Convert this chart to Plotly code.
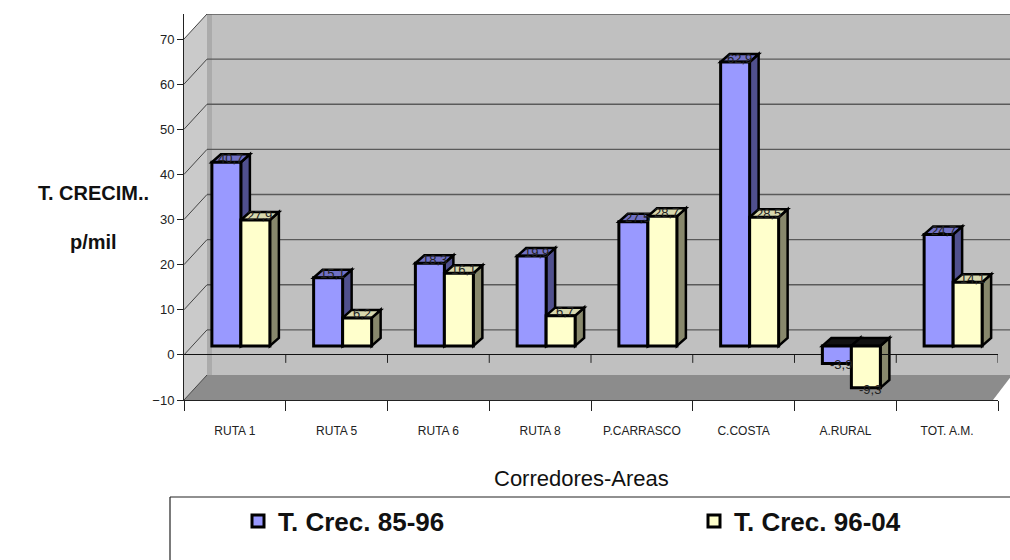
import plotly.graph_objects as go

categories = ["RUTA 1", "RUTA 5", "RUTA 6", "RUTA 8", "P.CARRASCO", "C.COSTA", "A.RURAL", "TOT. A.M."]
crec_85_96 = [40.7, 15.1, 18.3, 19.9, 27.5, 62.9, -3.9, 24.7]
crec_96_04 = [27.9, 6.2, 16.1, 6.7, 28.7, 28.5, -9.3, 14.1]
series_names = ["T. Crec. 85-96", "T. Crec. 96-04"]
y_ticks = [-10, 0, 10, 20, 30, 40, 50, 60, 70]

FONT = "Liberation Sans, Arial, sans-serif"

# plot geometry (pixels)
W, H = 1010, 560
L, T, PW, PH = 184, 14, 826, 386
XW = 814  # width of category axis
PXU = 4.5125  # pixels per y unit
WALL_X = 207
BACK_UNITS = 25 / PXU     # back wall shift
FRONT_UNITS = 9 / PXU     # bar front-face shift
DX = 9 / (XW / len(categories))
DY = 8 / PXU

def px(p):
    return (p - L) / PW

def py(p):
    return (T + PH - p) / PH

span = PH / PXU
y2_range = [-10, -10 + span]
y_range = [-10 - FRONT_UNITS, -10 - FRONT_UNITS + span]

colors = ["#9999ff", "#ffffcc"]
tops = ["#7070c4", "#d8d8ae"]
sides = ["#50508e", "#88886c"]
offsets = [-0.226, 0.059]
bw = 0.285

fig = go.Figure()
shapes = []
annotations = []

# walls and floor
shapes.append(dict(type="path", xref="paper", yref="paper", layer="below",
                   path=f"M{px(L)},{py(39)} L{px(WALL_X)},{py(14)} L{px(WALL_X)},{py(375)} L{px(L)},{py(400)} Z",
                   fillcolor="#cacaca", line=dict(width=0)))
shapes.append(dict(type="rect", xref="paper", yref="paper", layer="below",
                   x0=px(WALL_X), x1=px(1010), y0=py(375), y1=py(14),
                   fillcolor="#c0c0c0", line=dict(width=0)))
shapes.append(dict(type="rect", xref="paper", yref="paper", layer="below",
                   x0=px(WALL_X), x1=px(WALL_X + 5), y0=py(375), y1=py(14),
                   fillcolor="#ababab", line=dict(width=0)))
shapes.append(dict(type="path", xref="paper", yref="paper", layer="below",
                   path=f"M{px(L)},{py(400)} L{px(WALL_X)},{py(375)} L{px(1012)},{py(375)} L{px(993)},{py(400)} Z",
                   fillcolor="#8c8c8c", line=dict(width=0)))

# back-wall gridlines and connectors
for v in y_ticks:
    if v >= 0:
        shapes.append(dict(type="line", xref="paper", yref="y2", layer="below",
                           x0=px(WALL_X), x1=px(1010), y0=v + BACK_UNITS, y1=v + BACK_UNITS,
                           line=dict(color="#5a5a5a", width=1.3)))
    shapes.append(dict(type="line", xref="paper", yref="y2", layer="below",
                       x0=px(L), x1=px(WALL_X), y0=v, y1=v + BACK_UNITS,
                       line=dict(color="#444444", width=1)))

# small ticks on the zero line
for i in range(len(categories)):
    shapes.append(dict(type="line", xref="x", yref="y2", layer="above",
                       x0=i + 0.5, x1=i + 0.5, y0=0, y1=-8 / PXU,
                       line=dict(color="#222", width=1)))

# bars (front faces via traces, depth faces via shapes)
legend_ids = ["legend", "legend2"]
for s, vals in enumerate([crec_85_96, crec_96_04]):
    fig.add_trace(go.Bar(
        x=categories, y=vals, name=series_names[s], yaxis="y", xaxis="x",
        offset=offsets[s], width=bw, legend=legend_ids[s],
        marker=dict(color=colors[s], line=dict(color="black", width=3)),
        hoverinfo="x+y",
    ))
for s, vals in enumerate([crec_85_96, crec_96_04]):
    for i, v in enumerate(vals):
        x0 = i + offsets[s]
        x1 = x0 + bw
        top = max(v, 0)
        bot = min(v, 0)
        shapes.append(dict(type="path", xref="x", yref="y", layer="below",
                           path=f"M{x1},{bot} L{x1 + DX},{bot + DY} L{x1 + DX},{top + DY} L{x1},{top} Z",
                           fillcolor=sides[s], line=dict(color="black", width=2.5)))
        shapes.append(dict(type="path", xref="x", yref="y", layer="below",
                           path=f"M{x0},{top} L{x0 + DX},{top + DY} L{x1 + DX},{top + DY} L{x1},{top} Z",
                           fillcolor=(tops[s] if v >= 0 else "#111111"), line=dict(color="black", width=2.5)))
        label = f"{v:.1f}".replace(".", ",")
        annotations.append(dict(xref="x", yref="y", x=(x0 + x1) / 2 + DX / 2,
                                y=(v + DY / 2) if v >= 0 else (v - 0.3),
                                text=label, showarrow=False, xanchor="center", yanchor="middle",
                                font=dict(family=FONT, size=13, color="#222222")))

# legend box
shapes.append(dict(type="line", xref="paper", yref="paper", x0=px(170), x1=px(1012), y0=py(497), y1=py(497),
                   line=dict(color="#222", width=1.2)))
shapes.append(dict(type="line", xref="paper", yref="paper", x0=px(170), x1=px(170), y0=py(497), y1=py(562),
                   line=dict(color="#222", width=1.2)))

annotations.append(dict(xref="paper", yref="paper", x=px(581), y=py(478), text="Corredores-Areas",
                        showarrow=False, xanchor="center", yanchor="middle",
                        font=dict(family=FONT, size=22, color="#111")))
annotations.append(dict(xref="paper", yref="paper", x=px(93), y=py(193),
                        text="<b>T. CRECIM..</b>", showarrow=False, xanchor="center",
                        font=dict(family=FONT, size=20, color="#111"), yanchor="middle"))
annotations.append(dict(xref="paper", yref="paper", x=px(93), y=py(242),
                        text="<b>p/mil</b>", showarrow=False, xanchor="center",
                        font=dict(family=FONT, size=20, color="#111"), yanchor="middle"))

legend_common = dict(orientation="h", xanchor="left", y=py(521), yanchor="middle",
                     bgcolor="rgba(0,0,0,0)",
                     font=dict(family=FONT, size=26, color="#111", weight="bold"))

fig.update_layout(
    width=W, height=H,
    margin=dict(l=L, r=W - L - PW, t=T, b=H - T - PH, pad=0, autoexpand=False),
    paper_bgcolor="white", plot_bgcolor="rgba(0,0,0,0)",
    barmode="overlay",
    shapes=shapes, annotations=annotations,
    xaxis=dict(domain=[0, XW / PW], type="category", tickson="boundaries", ticks="outside", ticklen=10,
               tickcolor="#222", showline=True, linecolor="#222", linewidth=1, showgrid=False,
               tickfont=dict(family=FONT, size=12, color="#222"), ticklabelstandoff=20,
               range=[-0.5, len(categories) - 0.5]),
    yaxis=dict(range=y_range, visible=False, fixedrange=True),
    yaxis2=dict(range=y2_range, overlaying="y", side="left", anchor="x", tickvals=y_ticks,
                ticks="outside", ticklen=6, tickcolor="#222", showline=True, linecolor="#222",
                showgrid=False, zeroline=True, zerolinecolor="#111", zerolinewidth=1,
                tickfont=dict(family=FONT, size=13, color="#222")),
    showlegend=True,
    legend=dict(x=px(238), **legend_common),
    legend2=dict(x=px(694), **legend_common),
)

fig.write_html("out.html", config={"displayModeBar": False},
               post_script="document.body.style.margin='0';document.body.style.overflow='hidden';")
